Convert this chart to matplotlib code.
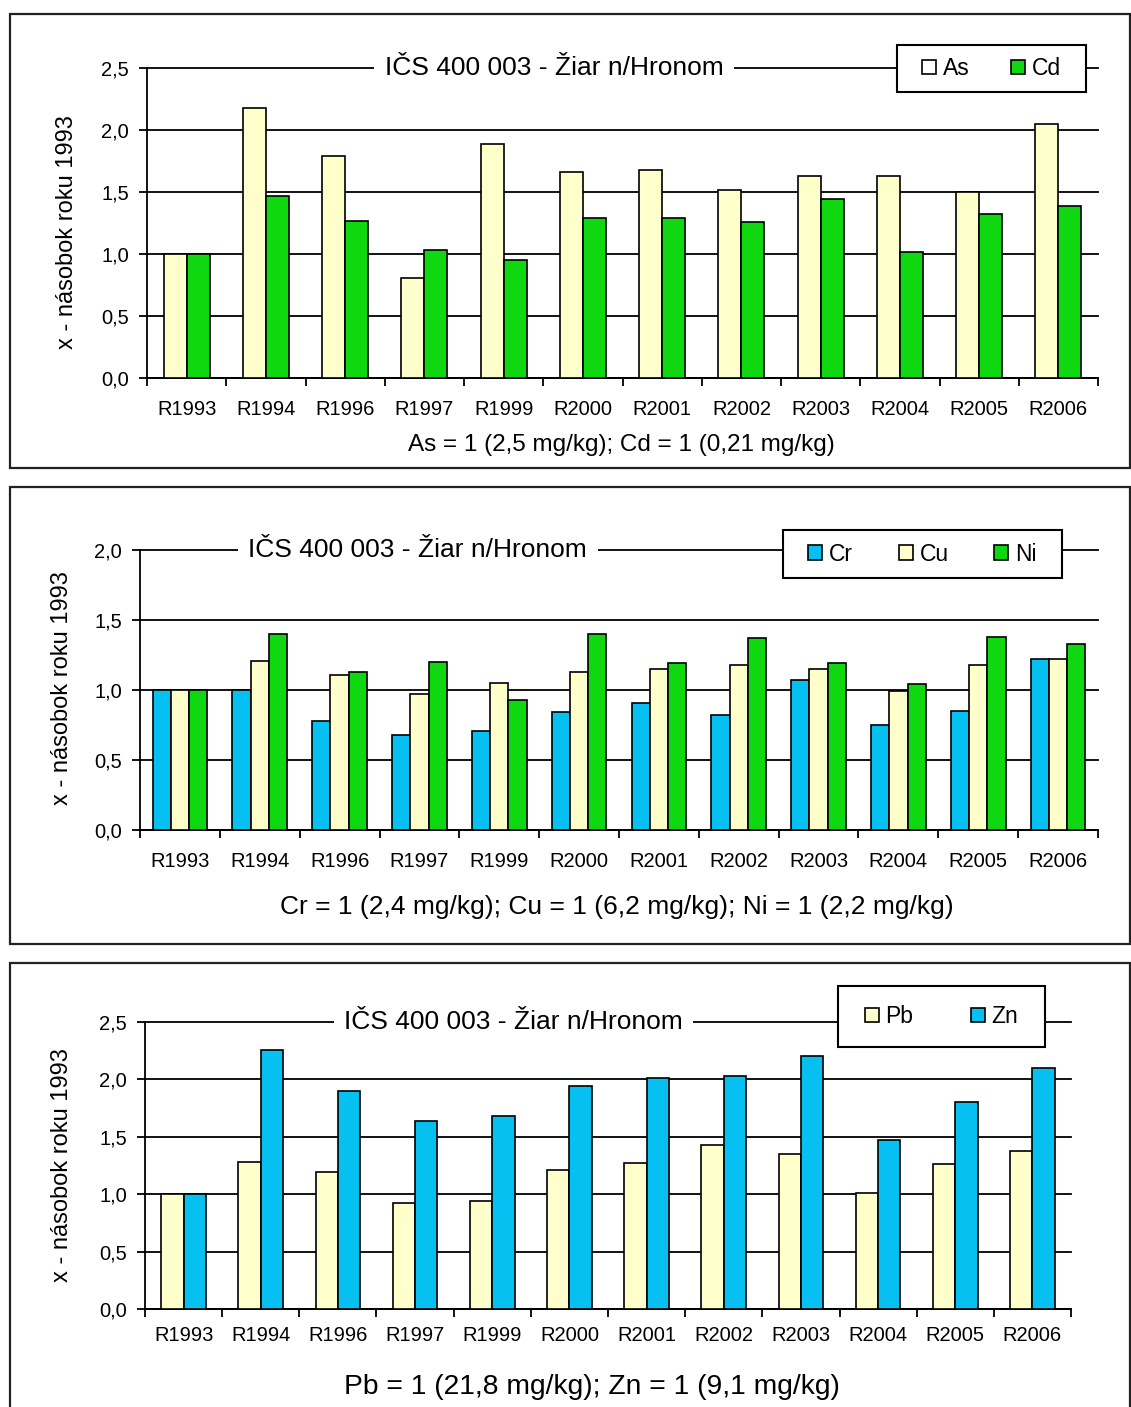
import numpy as np
import matplotlib
matplotlib.use('Agg')
import matplotlib.pyplot as plt
from matplotlib.patches import Rectangle, Patch

plt.rcParams['font.family'] = ['Liberation Sans', 'DejaVu Sans']

# --- data ---
years = ['R1993', 'R1994', 'R1996', 'R1997', 'R1999', 'R2000',
         'R2001', 'R2002', 'R2003', 'R2004', 'R2005', 'R2006']

as_vals = [1.00, 2.18, 1.79, 0.81, 1.89, 1.66, 1.68, 1.52, 1.63, 1.63, 1.50, 2.05]
cd_vals = [1.00, 1.47, 1.27, 1.03, 0.95, 1.29, 1.29, 1.26, 1.44, 1.02, 1.32, 1.39]

cr_vals = [1.00, 1.00, 0.78, 0.68, 0.71, 0.84, 0.91, 0.82, 1.07, 0.75, 0.85, 1.22]
cu_vals = [1.00, 1.21, 1.11, 0.97, 1.05, 1.13, 1.15, 1.18, 1.15, 0.99, 1.18, 1.22]
ni_vals = [1.00, 1.40, 1.13, 1.20, 0.93, 1.40, 1.19, 1.37, 1.19, 1.04, 1.38, 1.33]

pb_vals = [1.00, 1.28, 1.19, 0.92, 0.94, 1.21, 1.27, 1.43, 1.35, 1.01, 1.26, 1.38]
zn_vals = [1.00, 2.26, 1.90, 1.64, 1.68, 1.94, 2.01, 2.03, 2.20, 1.47, 1.80, 2.10]

yticks_25 = [0.0, 0.5, 1.0, 1.5, 2.0, 2.5]
ylabels_25 = ['0,0', '0,5', '1,0', '1,5', '2,0', '2,5']
yticks_20 = [0.0, 0.5, 1.0, 1.5, 2.0]
ylabels_20 = ['0,0', '0,5', '1,0', '1,5', '2,0']

title = 'IČS 400 003 - Žiar n/Hronom'
ylabel = 'x - násobok roku 1993'
xlabel1 = 'As = 1 (2,5 mg/kg); Cd = 1 (0,21 mg/kg)'
xlabel2 = 'Cr = 1 (2,4 mg/kg); Cu = 1 (6,2 mg/kg); Ni = 1 (2,2 mg/kg)'
xlabel3 = 'Pb = 1 (21,8 mg/kg); Zn = 1 (9,1 mg/kg)'

YELLOW = '#ffffcc'
GREEN = '#10d810'
BLUE = '#05c0f0'

W, H = 1131, 1407
fig = plt.figure(figsize=(W / 100, H / 100), dpi=100)


def fx(px):
    return px / W


def fy(py):
    return 1 - py / H


def panel(box, axpx, series, names, colors, swatches, bw, yt, yl, title_x,
          leg_px, colsp, xlab, xlab_pos, xlab_fs, ylab_pos, xpad):
    # outer frame
    x0, y0, x1, y1 = box
    fig.add_artist(Rectangle((fx(x0), fy(y1)), fx(x1 - x0), (y1 - y0) / H,
                             transform=fig.transFigure, fill=False,
                             lw=1.6, edgecolor='#222222'))
    l, t, r, b = axpx
    ax = fig.add_axes([fx(l), fy(b), fx(r - l), (b - t) / H])
    x = np.arange(len(years))
    n = len(series)
    for k, (vals, c) in enumerate(zip(series, colors)):
        off = (k - (n - 1) / 2) * bw
        ax.bar(x + off, vals, width=bw, color=c, edgecolor='black',
               linewidth=1.2, zorder=3)
    ax.set_xlim(-0.5, len(years) - 0.5)
    ax.set_ylim(yt[0], yt[-1])
    ax.set_yticks(yt)
    ax.set_yticklabels(yl)
    ax.set_xticks(x)
    ax.set_xticklabels(years)
    ax.set_xticks(np.arange(-0.5, len(years)), minor=True)
    ax.tick_params(axis='x', which='major', length=0, pad=xpad, labelsize=14.5)
    ax.tick_params(axis='x', which='minor', length=6, width=1.3, direction='out')
    ax.tick_params(axis='y', length=6, width=1.3, direction='out', pad=7,
                   labelsize=14.5)
    for s in ['top', 'right']:
        ax.spines[s].set_visible(False)
    for s in ['left', 'bottom']:
        ax.spines[s].set_linewidth(1.3)
    ax.grid(axis='y', color='black', lw=1.3)
    ax.set_axisbelow(True)
    for gl in ax.get_ygridlines():
        gl.set_clip_on(False)
    ax.text(title_x, 1.0, title, transform=ax.transAxes, ha='center',
            va='center', fontsize=19, zorder=6,
            bbox=dict(boxstyle='square,pad=0.4', facecolor='white',
                      edgecolor='none'))
    # legend frame
    lx0, ly0, lx1, ly1 = leg_px
    ax.add_patch(Rectangle((fx(lx0), fy(ly1)), fx(lx1 - lx0), (ly1 - ly0) / H,
                           transform=fig.transFigure, facecolor='white',
                           edgecolor='black', lw=1.5, clip_on=False, zorder=6))
    handles = [Patch(facecolor=c, edgecolor='black', linewidth=1.2)
               for c in swatches]
    leg = ax.legend(handles, names, loc='center', ncol=n,
                    bbox_to_anchor=(fx((lx0 + lx1) / 2), fy((ly0 + ly1) / 2)),
                    bbox_transform=fig.transFigure, frameon=False,
                    fontsize=16.5, handlelength=0.6, handleheight=0.6,
                    handletextpad=0.3, columnspacing=colsp, borderpad=0,
                    borderaxespad=0)
    leg.set_zorder(7)
    fig.text(fx(xlab_pos[0]), fy(xlab_pos[1]), xlab, ha='center',
             va='center', fontsize=xlab_fs)
    fig.text(fx(ylab_pos[0]), fy(ylab_pos[1]), ylabel, ha='center',
             va='center', rotation=90, fontsize=17)
    return ax


panel((10, 14, 1130, 468), (147, 68, 1098, 378),
      [as_vals, cd_vals], ['As', 'Cd'], [YELLOW, GREEN], ['white', GREEN],
      0.29, yticks_25, ylabels_25, 0.428, (897, 45, 1086, 92), 1.8,
      xlabel1, (621, 445), 17.5, (67, 232), 16)

panel((10, 487, 1130, 944), (140, 550, 1098, 830),
      [cr_vals, cu_vals, ni_vals], ['Cr', 'Cu', 'Ni'], [BLUE, YELLOW, GREEN],
      [BLUE, YELLOW, GREEN], 0.228, yticks_20, ylabels_20, 0.29,
      (783, 530, 1062, 578), 2.0,
      xlabel2, (617, 907), 19, (62, 688), 16)

panel((10, 963, 1130, 1420), (145, 1022, 1071, 1309),
      [pb_vals, zn_vals], ['Pb', 'Zn'], [YELLOW, BLUE], [YELLOW, BLUE],
      0.29, yticks_25, ylabels_25, 0.398, (838, 986, 1045, 1047), 2.5,
      xlabel3, (592, 1387), 20.3, (62, 1165), 12)

fig.savefig('out.png', dpi=100, facecolor='white')
